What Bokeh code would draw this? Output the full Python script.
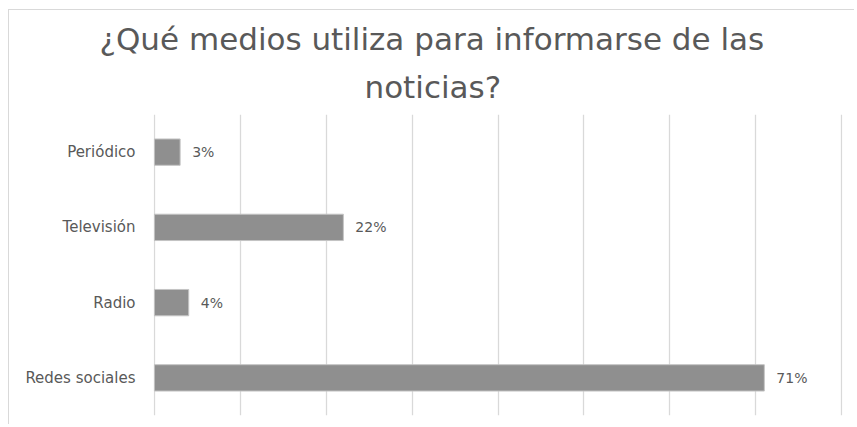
from bokeh.plotting import figure
from bokeh.models import ColumnDataSource, Range1d, FactorRange, Title, LabelSet, SingleIntervalTicker
from bokeh.core.properties import value
from bokeh.embed import file_html
from bokeh.resources import INLINE

# Data
categories = ["Periódico", "Televisión", "Radio", "Redes sociales"]
values = [3, 22, 4, 71]
title_line1 = "¿Qué medios utiliza para informarse de las"
title_line2 = "noticias?"

labels = [f"{v}%" for v in values]
src = ColumnDataSource(dict(cat=categories, val=values, lab=labels))

FONT = "DejaVu Sans"
TXT = "#595959"

p = figure(
    width=846, height=415,
    y_range=FactorRange(*list(reversed(categories)), range_padding=0),
    x_range=Range1d(-0.1, 80.1),
    output_backend="svg", toolbar_location=None, tools="",
    min_border_left=144, min_border_right=13, min_border_top=104, min_border_bottom=10,
)
p.title.visible = False

t2 = Title(text=title_line2, align="left", offset=211, text_font=FONT, text_font_size="31px",
           text_font_style="normal", text_color=TXT, standoff=20)
t1 = Title(text=title_line1, align="left", offset=-54, text_font=FONT, text_font_size="31px",
           text_font_style="normal", text_color=TXT, standoff=0)
p.add_layout(t2, "above")
p.add_layout(t1, "above")

p.hbar(y="cat", right="val", left=0, height=0.35, source=src,
       fill_color="#8f8f8f", line_color="#c4c4c4", line_width=1)

lbl = LabelSet(x="val", y="cat", text="lab", source=src, x_offset=12,
               text_baseline="middle", text_align="left", text_font=value(FONT),
               text_font_size="14px", text_color=TXT)
p.add_layout(lbl)

p.xaxis.visible = False
p.xaxis.ticker = SingleIntervalTicker(interval=10)
p.xgrid.ticker = SingleIntervalTicker(interval=10)
p.xgrid.grid_line_color = "#d9d9d9"
p.xgrid.grid_line_width = 1.3
p.ygrid.grid_line_color = None

p.yaxis.axis_line_color = None
p.yaxis.major_tick_line_color = None
p.yaxis.minor_tick_line_color = None
p.yaxis.major_label_standoff = 12
p.yaxis.major_label_text_font = FONT
p.yaxis.major_label_text_font_size = "15px"
p.yaxis.major_label_text_color = TXT

p.outline_line_color = None
p.background_fill_color = "white"
p.border_fill_color = "white"
p.styles = {"margin-left": "8px", "margin-top": "9px",
            "border-top": "1px solid #d9d9d9", "border-left": "1px solid #d9d9d9"}

open("out.html", "w").write(file_html(p, INLINE))
